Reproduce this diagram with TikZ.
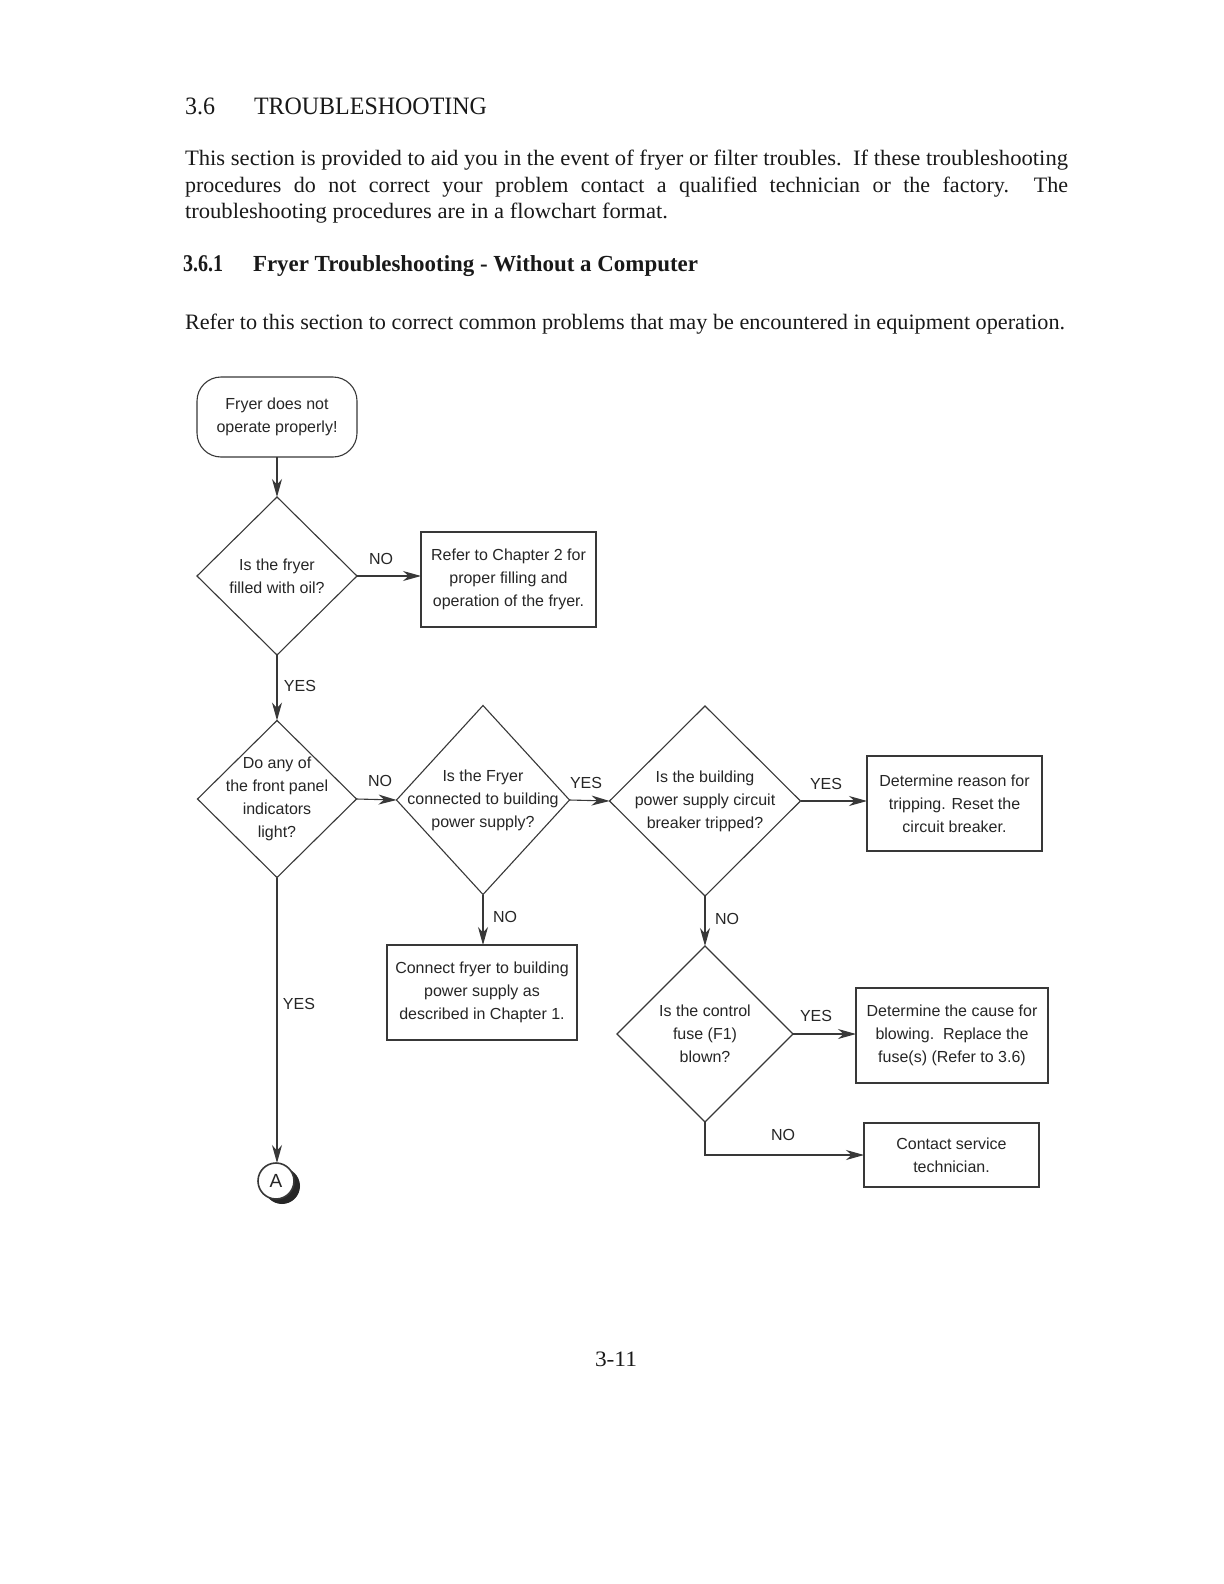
\documentclass[tikz,border=0pt]{standalone}
\usepackage{fontspec}
\usepackage{graphicx}
\setmainfont{Liberation Serif}
\newfontfamily\chartfont{Liberation Sans}
\usetikzlibrary{arrows.meta,shapes.geometric}
\begin{document}
\begin{tikzpicture}[x=0.5pt,y=-0.5pt,
  every node/.style={inner sep=0pt, outer sep=0pt},
  ln/.style={draw=black!78, line width=0.55pt},
  arr/.style={ln, -{Stealth[length=9pt,width=5pt,inset=2.8pt]}},
  ctext/.style={font=\chartfont\fontsize{8}{11.5}\selectfont, text=black!85, align=center},
  hdr/.style={anchor=base west, text=black!90},
  startbox/.style={ln, rectangle, rounded corners=12pt},
  procbox/.style={ln, rectangle},
  decision/.style={ln, diamond},
  lbl/.style={ctext}
]
\useasboundingbox[fill=white] (0,0) rectangle (1224,1584);

% ---------- header text ----------
\node[hdr] (h1a) at (185,115) {\fontsize{12.5}{15}\selectfont\resizebox{15pt}{\height}{3.6}};
\node[hdr] (h1b) at (254,115) {\fontsize{12.5}{15}\selectfont\resizebox{116.5pt}{\height}{TROUBLESHOOTING}};

\node[hdr] (p1) at (185,165) {\fontsize{11}{13}\selectfont\resizebox{441.5pt}{\height}{This section is provided to aid you in the event of fryer or filter troubles.\ \ If these troubleshooting}};
\node[hdr] (p2) at (185,192) {\fontsize{11}{13}\selectfont\makebox[441.5pt][s]{procedures do not correct your problem contact a qualified technician or the factory.\ \ The}};
\node[hdr] (p3) at (185,218) {\fontsize{11}{13}\selectfont\resizebox{241.5pt}{\height}{troubleshooting procedures are in a flowchart format.}};

\node[hdr] (h2a) at (183,271) {\fontsize{12}{14}\selectfont\bfseries\resizebox{20pt}{\height}{3.6.1}};
\node[hdr] (h2b) at (253,271) {\fontsize{11.5}{14}\selectfont\bfseries\resizebox{222.5pt}{\height}{Fryer Troubleshooting - Without a Computer}};

\node[hdr] (p4) at (185,329) {\fontsize{11}{13}\selectfont\resizebox{440pt}{\height}{Refer to this section to correct common problems that may be encountered in equipment operation.}};

\node[hdr] (pg) at (595,1366) {\fontsize{11}{13}\selectfont\resizebox{21pt}{\height}{3-11}};

% ---------- flowchart ----------
\node[startbox, minimum width=80pt, minimum height=40pt] (s) at (277,417) {};
\node[ctext] (st) at (s) {Fryer does not\\operate properly!};

\node[decision, minimum width=80pt, minimum height=79pt] (d1) at (277,576) {};
\node[ctext] (d1t) at (d1) {Is the fryer\\filled with oil?};

\node[procbox, minimum width=87.5pt, minimum height=47.5pt] (b1) at (508.5,579.5) {};
\node[ctext] (b1t) at (b1) {Refer to Chapter 2 for\\proper filling and\\operation of the fryer.};

\node[decision, minimum width=79.5pt, minimum height=78.5pt] (d2) at (277,799) {};
\node[ctext] (d2t) at (d2) {Do any of\\the front panel\\indicators\\light?};

\node[decision, minimum width=86.5pt, minimum height=94.5pt] (d3) at (483,800) {};
\node[ctext] (d3t) at (d3) {Is the Fryer\\connected to building\\power supply?};

\node[decision, minimum width=95.5pt, minimum height=95pt] (d4) at (705,801) {};
\node[ctext] (d4t) at (d4) {Is the building\\power supply circuit\\breaker tripped?};

\node[procbox, minimum width=87.5pt, minimum height=47.5pt] (b3) at (954.5,803.5) {};
\node[ctext] (b3t) at (b3) {Determine reason for\\tripping. Reset the\\circuit breaker.};

\node[procbox, minimum width=95pt, minimum height=47.5pt] (b2) at (482,992.5) {};
\node[ctext] (b2t) at (b2) {Connect fryer to building\\power supply as\\described in Chapter 1.};

\node[decision, minimum width=88pt, minimum height=88pt] (d5) at (705,1034) {};
\node[ctext] (d5t) at (d5) {Is the control\\fuse (F1)\\blown?};

\node[procbox, minimum width=96pt, minimum height=47.5pt] (b4) at (952,1035.5) {};
\node[ctext] (b4t) at (b4) {Determine the cause for\\blowing.\ \ Replace the\\fuse(s) (Refer to 3.6)};

\node[procbox, minimum width=87.5pt, minimum height=32pt] (b5) at (951.5,1155) {};
\node[ctext] (b5t) at (b5) {Contact service\\technician.};

% connector A with shadow
\fill[black!85] (282,1186) circle[radius=9pt];
\node[ln, line width=0.8pt, circle, fill=white, minimum size=18pt] (a) at (276,1181) {};
\node[ctext, font=\chartfont\fontsize{9.5}{11}\selectfont] (at) at (a) {A};

% ---------- connectors ----------
\draw[arr] (s.south) -- (d1.north);
\draw[arr] (d1.east) -- (d1.east -| b1.west);
\draw[arr] (d1.south) -- (d2.north);
\draw[arr] (d2.east) -- (d3.west);
\draw[arr] (d3.east) -- (d4.west);
\draw[arr] (d4.east) -- (d4.east -| b3.west);
\draw[arr] (d3.south) -- (d3.south |- b2.north);
\draw[arr] (d4.south) -- (d5.north);
\draw[arr] (d5.east) -- (d5.east -| b4.west);
\draw[arr] (d5.south) |- (b5.west);
\draw[arr] (d2.south) -- (d2.south |- a.north);

% ---------- connector labels ----------
\node[lbl] (l1) at (381,559) {NO};
\node[lbl] (l2) at (300,686) {YES};
\node[lbl] (l3) at (380,781) {NO};
\node[lbl] (l4) at (586,783) {YES};
\node[lbl] (l5) at (826,784) {YES};
\node[lbl] (l6) at (505,917) {NO};
\node[lbl] (l7) at (727,919) {NO};
\node[lbl] (l8) at (299,1004) {YES};
\node[lbl] (l9) at (816,1016) {YES};
\node[lbl] (l10) at (783,1135) {NO};
\end{tikzpicture}
\end{document}
